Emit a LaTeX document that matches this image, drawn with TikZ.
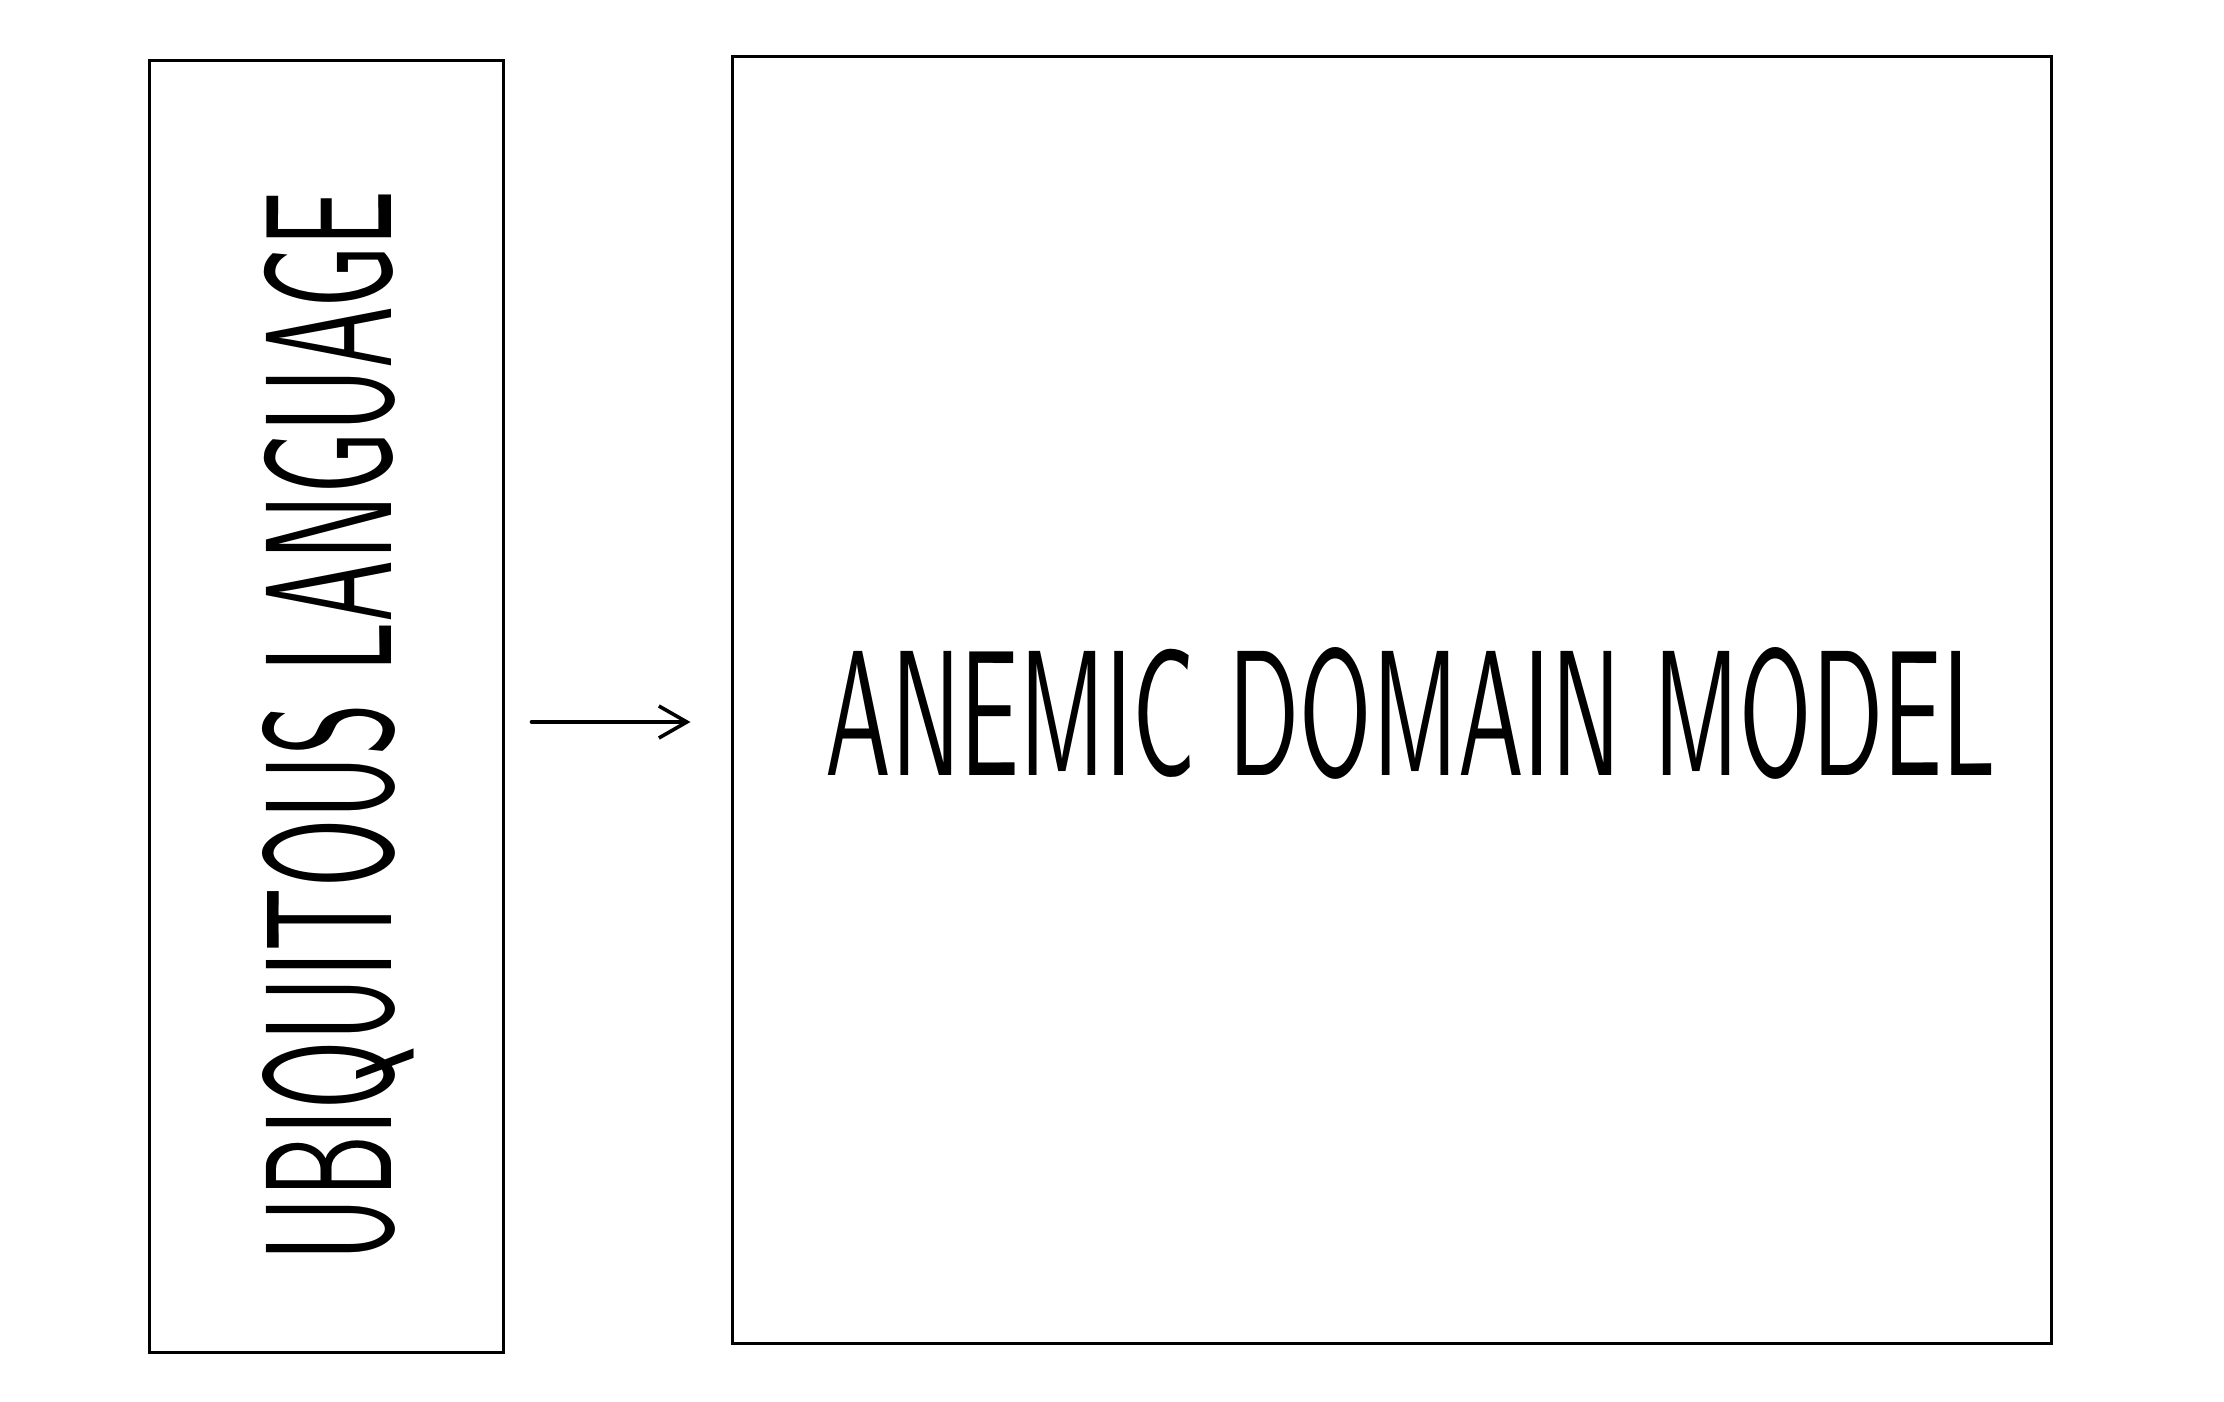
\documentclass[tikz,border=0pt]{standalone}
\usetikzlibrary{arrows.meta}

\tikzset{
  frame/.style={draw, line width=1.5pt, inner sep=0pt},
  handtext/.style={inner sep=0pt, font=\sffamily},
}

\begin{document}
\begin{tikzpicture}[x=0.5pt, y=-0.5pt]
\path[use as bounding box] (0,0) rectangle (2224,1402);
% boxes
\node[frame, minimum width=177pt, minimum height=645.5pt] (ubi) at (326,706.5) {};
\node[frame, minimum width=659.5pt, minimum height=643pt] (adm) at (1391.5,700) {};
% texts
\node[handtext, rotate=90, anchor=base west] (ubitext) at (391,1262)
  {\resizebox{535pt}{64.5pt}{UBIQUITOUS LANGUAGE}};
\node[handtext, anchor=base west] (admtext) at (825,775)
  {\resizebox{585pt}{64pt}{ANEMIC DOMAIN MODEL}};
% arrow
\coordinate (arrowrow) at (0,722);
\draw[line width=1.8pt, line cap=round, shorten <=13.5pt, shorten >=20pt,
  -{Straight Barb[length=14pt, width=16pt, line width=1.8pt]}]
  (ubi.east |- arrowrow) -- (adm.west |- arrowrow);
\end{tikzpicture}
\end{document}
